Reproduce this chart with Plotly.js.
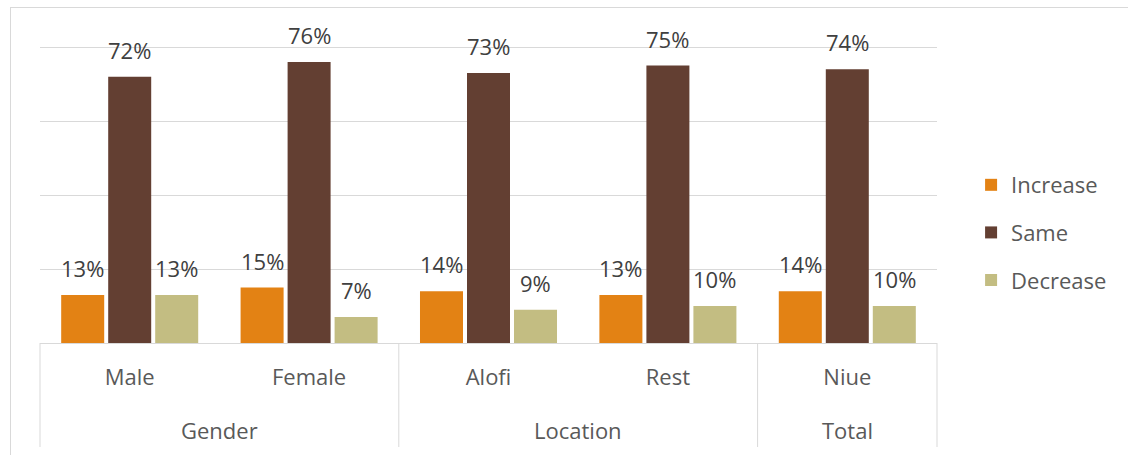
<!DOCTYPE html>
<html>
<head>
<meta charset="utf-8">
<script src="https://cdn.plot.ly/plotly-3.0.1.min.js"></script>
<style>
  html, body { margin: 0; padding: 0; background: #ffffff; overflow: hidden; }
  #frame { position: absolute; left: 10px; top: 7px; width: 1140px; height: 470px; border: 1px solid #d9d9d9; box-sizing: border-box; }
  #chart { position: absolute; left: 0; top: 0; width: 1128px; height: 455px; }
</style>
</head>
<body>
<div id="frame"></div>
<div id="chart"></div>
<script>
// Data
const groups = ['Gender', 'Gender', 'Location', 'Location', 'Total'];
const categories = ['Male', 'Female', 'Alofi', 'Rest', 'Niue'];
const increase = [13, 15, 14, 13, 14];
const same = [72, 76, 73, 75, 74];
const decrease = [13, 7, 9, 10, 10];
const seriesNames = ['Increase', 'Same', 'Decrease'];

const colors = ['#E38214', '#633F32', '#C3BD82'];
const seriesValues = [increase, same, decrease];
const bargap = 0.214;
const bargroupgap = 0.085;
const nCat = categories.length;

const font = 'Open Sans, Liberation Sans, sans-serif';
const lineColor = '#d9d9d9';

const traces = seriesValues.map((vals, s) => ({
  type: 'bar',
  name: seriesNames[s],
  x: categories,
  y: vals,
  marker: { color: colors[s], line: { width: 0 } },
  legendgroup: 'g' + s,
  hoverinfo: 'skip'
}));

// Data labels as annotations above each bar
const annotations = [];
const slot = (1 - bargap) / 3;
seriesValues.forEach((vals, s) => {
  vals.forEach((v, i) => {
    annotations.push({
      xref: 'x', yref: 'y',
      x: i + (s - 1) * slot,
      y: v,
      text: v + '%',
      showarrow: false,
      yanchor: 'bottom',
      yshift: 10,
      font: { family: font, size: 22, color: '#404040' }
    });
  });
});

// Group (parent) labels and dividers
const shapes = [];
const uniqueGroups = [];
groups.forEach((g, i) => {
  if (!uniqueGroups.length || uniqueGroups[uniqueGroups.length - 1].name !== g) {
    uniqueGroups.push({ name: g, start: i, end: i });
  } else {
    uniqueGroups[uniqueGroups.length - 1].end = i;
  }
});
const divBottom = -104 / 297;
function addDivider(px) {
  shapes.push({
    type: 'line', xref: 'paper', yref: 'paper',
    x0: px, x1: px, y0: 0, y1: divBottom,
    line: { color: lineColor, width: 1 }
  });
}
addDivider(0);
uniqueGroups.forEach(g => {
  annotations.push({
    xref: 'x', yref: 'paper',
    x: (g.start + g.end) / 2,
    y: 0,
    yshift: -87,
    yanchor: 'middle',
    text: g.name,
    showarrow: false,
    font: { family: font, size: 22, color: '#595959' }
  });
  addDivider((g.end + 1) / nCat);
});

const layout = {
  width: 1128,
  height: 455,
  margin: { l: 40, r: 191, t: 46, b: 112 },
  paper_bgcolor: 'rgba(0,0,0,0)',
  plot_bgcolor: 'rgba(0,0,0,0)',
  barmode: 'group',
  bargap: bargap,
  bargroupgap: bargroupgap,
  showlegend: true,
  legend: {
    x: 1.038, xanchor: 'left',
    y: 0.372, yanchor: 'middle',
    traceorder: 'grouped',
    tracegroupgap: 16,
    font: { family: font, size: 22, color: '#595959' },
    bgcolor: 'rgba(0,0,0,0)'
  },
  xaxis: {
    type: 'category',
    range: [-0.5, nCat - 0.5],
    showline: true,
    linecolor: lineColor,
    linewidth: 1,
    showgrid: false,
    ticks: 'outside',
    ticklen: 15,
    tickcolor: 'rgba(0,0,0,0)',
    tickfont: { family: font, size: 22, color: '#595959' },
    zeroline: false
  },
  yaxis: {
    range: [0, 80.3],
    tickvals: [0, 20, 40, 60, 80],
    showgrid: true,
    gridcolor: lineColor,
    gridwidth: 1,
    showticklabels: false,
    zeroline: false,
    showline: false,
    ticks: ''
  },
  annotations: annotations,
  shapes: shapes
};

Plotly.newPlot('chart', traces, layout, { staticPlot: true, displayModeBar: false });
</script>
</body>
</html>
